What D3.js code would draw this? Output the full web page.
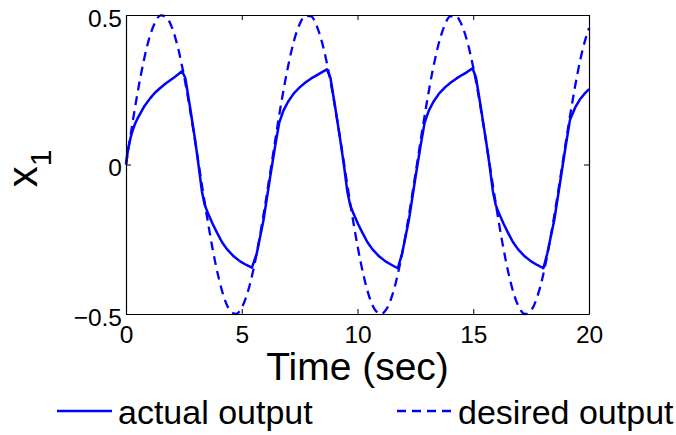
<!DOCTYPE html>
<html>
<head>
<meta charset="utf-8">
<script src="https://cdn.jsdelivr.net/npm/d3@7"></script>
<style>
  body { margin: 0; background: #fff; }
  svg { display: block; font-family: "Liberation Sans", Arial, Helvetica, sans-serif; }
</style>
</head>
<body>
<div id="chart"><svg></svg></div>
<script>
// tick values and labels
const xTicks = [0, 5, 10, 15, 20];
const yTicks = [-0.5, 0, 0.5];
const yTickLabels = ["\u22120.5", "0", "0.5"];

// desired output (dashed)
const desiredT = [
  0, 0.25, 0.5, 0.75, 1, 1.25, 1.5, 1.75, 2, 2.25, 2.5, 2.75, 3, 3.25, 3.5, 3.75,
  4, 4.25, 4.5, 4.75, 5, 5.25, 5.5, 5.75, 6, 6.25, 6.5, 6.75, 7, 7.25, 7.5, 7.75,
  8, 8.25, 8.5, 8.75, 9, 9.25, 9.5, 9.75, 10, 10.25, 10.5, 10.75, 11, 11.25, 11.5, 11.75,
  12, 12.25, 12.5, 12.75, 13, 13.25, 13.5, 13.75, 14, 14.25, 14.5, 14.75, 15, 15.25, 15.5, 15.75,
  16, 16.25, 16.5, 16.75, 17, 17.25, 17.5, 17.75, 18, 18.25, 18.5, 18.75, 19, 19.25, 19.5, 19.75, 20
];
const desiredX = [
  0, 0.124, 0.240, 0.341, 0.421, 0.474, 0.499, 0.492, 0.455, 0.389, 0.299, 0.191, 0.071, -0.054, -0.175, -0.286,
  -0.378, -0.448, -0.489, -0.500, -0.479, -0.429, -0.353, -0.254, -0.140, -0.017, 0.108, 0.225, 0.328, 0.412, 0.469, 0.497,
  0.495, 0.461, 0.399, 0.312, 0.206, 0.087, -0.038, -0.160, -0.272, -0.367, -0.440, -0.485, -0.500, -0.484, -0.438, -0.364,
  -0.268, -0.156, -0.033, 0.091, 0.210, 0.316, 0.402, 0.463, 0.495, 0.497, 0.467, 0.409, 0.325, 0.221, 0.103, -0.021,
  -0.144, -0.258, -0.356, -0.432, -0.481, -0.500, -0.488, -0.446, -0.376, -0.282, -0.171, -0.050, 0.075, 0.195, 0.303, 0.392, 0.456
];

// actual output (solid)
const actualT = [
  0, 0.05, 0.1, 0.2, 0.3, 0.4, 0.5, 0.62, 0.8, 1.05, 1.25, 1.48, 1.7, 1.91, 2.15, 2.42,
  2.56, 2.77, 2.99, 3.13, 3.28, 3.4, 3.55, 3.75, 3.93, 4.15, 4.36, 4.65, 4.93, 5.2, 5.44,
  5.65, 5.94, 6.23, 6.45, 6.62, 6.8, 7, 7.25, 7.5, 7.75, 8, 8.25, 8.45, 8.68,
  8.83, 9.04, 9.26, 9.41, 9.56, 9.68, 9.83, 10.03, 10.21, 10.43, 10.64, 10.93, 11.21, 11.48, 11.74,
  11.93, 12.22, 12.51, 12.73, 12.9, 13.08, 13.28, 13.53, 13.78, 14.03, 14.28, 14.53, 14.75, 14.97,
  15.12, 15.33, 15.55, 15.7, 15.85, 15.97, 16.12, 16.32, 16.5, 16.72, 16.93, 17.22, 17.5, 17.76, 18.03,
  18.2, 18.5, 18.79, 19, 19.18, 19.4, 19.61, 19.8, 20
];
const actualX = [
  0, 0.03, 0.055, 0.09, 0.117, 0.138, 0.154, 0.171, 0.196, 0.222, 0.24, 0.256, 0.27, 0.282, 0.295, 0.312,
  0.29, 0.19, 0.08, 0, -0.09, -0.135, -0.165, -0.2, -0.228, -0.26, -0.283, -0.307, -0.324, -0.336, -0.345,
  -0.297, -0.186, -0.04, 0.065, 0.14, 0.18, 0.21, 0.238, 0.258, 0.274, 0.288, 0.299, 0.308, 0.318,
  0.29, 0.19, 0.08, 0, -0.09, -0.135, -0.165, -0.2, -0.228, -0.26, -0.283, -0.307, -0.324, -0.336, -0.347,
  -0.297, -0.186, -0.04, 0.065, 0.14, 0.18, 0.21, 0.238, 0.258, 0.274, 0.288, 0.3, 0.31, 0.322,
  0.29, 0.19, 0.08, 0, -0.09, -0.135, -0.165, -0.2, -0.228, -0.26, -0.283, -0.307, -0.324, -0.336, -0.347,
  -0.297, -0.186, -0.04, 0.065, 0.15, 0.19, 0.218, 0.236, 0.252
];

const W = 676, H = 435;
const margin = { top: 15, right: 87, bottom: 121, left: 126 },
  width = W - margin.left - margin.right,
  height = H - margin.top - margin.bottom;

const svg = d3.select("#chart svg").attr("width", W).attr("height", H);
const g = svg.append("g").attr("transform", `translate(${margin.left},${margin.top})`);

const x = d3.scaleLinear().domain([0, 20]).range([0, width]);
const y = d3.scaleLinear().domain([-0.5, 0.5]).range([height, 0]);

const line = d3.line().x((d) => x(d[0])).y((d) => y(d[1]));

const desired = d3.zip(desiredT, desiredX);
const actual = d3.zip(actualT, actualX);

g.append("path")
  .datum(desired)
  .attr("d", line.curve(d3.curveMonotoneX))
  .style("fill", "none")
  .style("stroke", "#0000ff")
  .style("stroke-width", "2.3px")
  .style("stroke-dasharray", "9,6");

g.append("path")
  .datum(actual)
  .attr("d", line.curve(d3.curveLinear))
  .style("fill", "none")
  .style("stroke", "#0000ff")
  .style("stroke-width", "2.5px")
  .style("stroke-linejoin", "round");

// axes box with inward ticks
function styleAxis(sel) {
  sel.select(".domain").attr("stroke", "#000").attr("stroke-width", 1.2);
  sel.selectAll(".tick line").attr("stroke", "#000");
  sel.selectAll("text").attr("fill", "#000").style("font-size", "24.5px");
}

g.append("g")
  .attr("transform", `translate(0,${height})`)
  .call(d3.axisBottom(x).tickValues(xTicks).tickSizeInner(-5).tickSizeOuter(0).tickPadding(12))
  .call(styleAxis);

g.append("g")
  .call(d3.axisTop(x).tickValues(xTicks).tickSizeInner(-5).tickSizeOuter(0).tickFormat(""))
  .call(styleAxis);

g.append("g")
  .call(d3.axisLeft(y).tickValues(yTicks).tickSizeInner(-5).tickSizeOuter(0).tickPadding(4)
    .tickFormat((d, i) => yTickLabels[i]))
  .call(styleAxis)
  .selectAll("text").attr("dy", "0.45em");

g.append("g")
  .attr("transform", `translate(${width},0)`)
  .call(d3.axisRight(y).tickValues(yTicks).tickSizeInner(-5).tickSizeOuter(0).tickFormat(""))
  .call(styleAxis);

// axis titles
svg.append("text")
  .attr("x", margin.left + width / 2)
  .attr("y", 380)
  .attr("text-anchor", "middle")
  .style("font-size", "39px")
  .text("Time (sec)");

const ylab = svg.append("text")
  .attr("transform", `translate(37,${margin.top + height / 2 + 4}) rotate(-90)`)
  .attr("text-anchor", "middle")
  .style("font-size", "42px");
ylab.append("tspan").text("x");
ylab.append("tspan").attr("dy", "0.45em").style("font-size", "30px").text("1");

// legend
const legend = [
  { label: "actual output", dash: null, x0: 57 },
  { label: "desired output", dash: "9,6", x0: 397 }
];
const lg = svg.append("g").selectAll("g").data(legend).join("g")
  .attr("transform", (d) => `translate(${d.x0},411)`);
lg.append("line")
  .attr("x1", 0).attr("x2", 55)
  .style("stroke", "#0000ff")
  .style("stroke-width", "2.3px")
  .style("stroke-dasharray", (d) => d.dash);
lg.append("text")
  .attr("x", 61)
  .attr("y", 13)
  .style("font-size", "34px")
  .text((d) => d.label);
</script>
</body>
</html>
